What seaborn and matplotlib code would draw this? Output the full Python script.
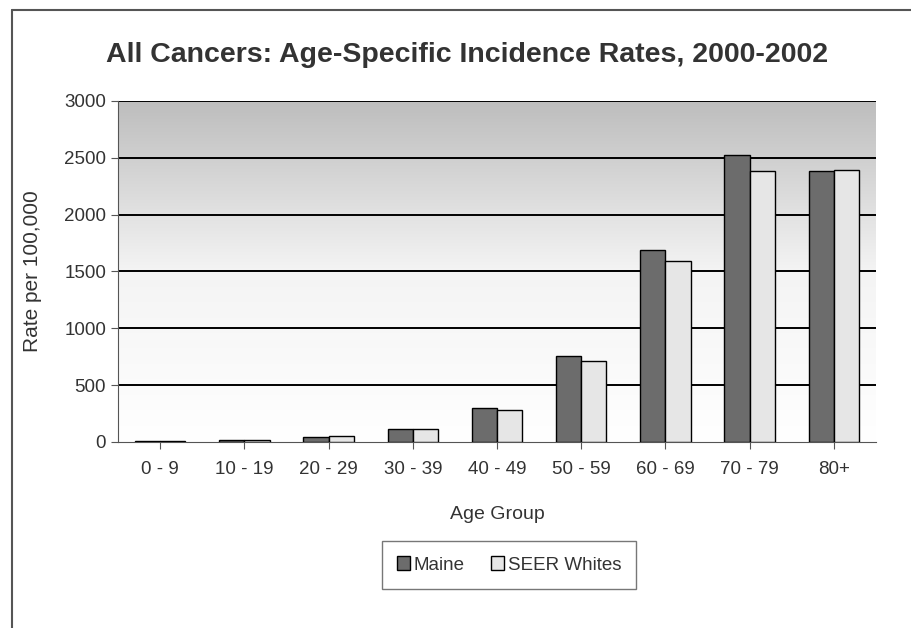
import numpy as np
import pandas as pd
import seaborn as sns
import matplotlib
matplotlib.use("Agg")
import matplotlib.pyplot as plt
from matplotlib.lines import Line2D
from matplotlib.colors import LinearSegmentedColormap

# ---------------------------------------------------------------
# Data
# ---------------------------------------------------------------
age_groups = ["0 - 9", "10 - 19", "20 - 29", "30 - 39", "40 - 49",
              "50 - 59", "60 - 69", "70 - 79", "80+"]
maine = [12, 15, 40, 114, 300, 760, 1690, 2525, 2385]
seer_whites = [13, 15, 55, 110, 282, 713, 1593, 2385, 2395]
series_names = ["Maine", "SEER Whites"]
y_ticks = [0, 500, 1000, 1500, 2000, 2500, 3000]

df = pd.DataFrame({
    "Age Group": age_groups * 2,
    "Rate": maine + seer_whites,
    "Series": [series_names[0]] * len(age_groups) + [series_names[1]] * len(age_groups),
})

sns.set_style("white")
plt.rcParams["font.family"] = ["Liberation Sans", "DejaVu Sans"]

fig = plt.figure(figsize=(9.11, 6.28), dpi=100)
ax = fig.add_axes([118 / 911, 1 - 442 / 628, (876 - 118) / 911, (442 - 101) / 628])

# gradient background: light grey at top, white at bottom
bg_cmap = LinearSegmentedColormap.from_list("bg", ["#ffffff", "#f4f4f4", "#bdbdbd"])
grad = np.linspace(0, 1, 256).reshape(-1, 1)
ax.imshow(grad, cmap=bg_cmap, vmin=0, vmax=1, aspect="auto",
          extent=[-0.5, len(age_groups) - 0.5, 0, 3000], origin="lower", zorder=0)

sns.barplot(data=df, x="Age Group", y="Rate", hue="Series",
            palette=["#6c6c6c", "#e6e6e6"], width=0.6, edgecolor="black",
            linewidth=1.0, ax=ax, zorder=3, legend=True)

ax.set_xlim(-0.5, len(age_groups) - 0.5)
ax.set_ylim(0, 3000)
ax.set_yticks(y_ticks)
for yv in y_ticks[1:]:
    ax.axhline(yv, color="black", lw=1.4, zorder=1)

for s in ["top", "right"]:
    ax.spines[s].set_visible(False)
ax.spines["left"].set_color("#555555")
ax.spines["bottom"].set_color("#555555")
ax.tick_params(axis="both", length=5, color="#555555", direction="out",
               labelsize=13.5, labelcolor="#333333", bottom=True, left=True)
ax.tick_params(axis="x", pad=9)
ax.set_xlabel("Age Group", fontsize=14, color="#333333", labelpad=20)
ax.set_ylabel("Rate per 100,000", fontsize=15, color="#333333", labelpad=16)

fig.text(467 / 911, 1 - 55 / 628, "All Cancers: Age-Specific Incidence Rates, 2000-2002",
         ha="center", va="center", fontsize=20.5, fontweight="bold", color="#333333")

leg = ax.legend(loc="center", bbox_to_anchor=(509 / 911, 1 - 565 / 628),
                bbox_transform=fig.transFigure, ncol=2, frameon=True,
                fancybox=False, fontsize=13.5, handlelength=0.7, handleheight=0.7,
                handletextpad=0.2, columnspacing=1.4, borderpad=0.8)
leg.get_frame().set_edgecolor("#555555")
leg.get_frame().set_linewidth(1.0)
for t in leg.get_texts():
    t.set_color("#333333")

# outer border lines (top and left)
fig.add_artist(Line2D([12 / 911, 1.0], [1 - 10 / 628, 1 - 10 / 628],
                      transform=fig.transFigure, color="#555555", lw=1.5))
fig.add_artist(Line2D([12 / 911, 12 / 911], [0.0, 1 - 10 / 628],
                      transform=fig.transFigure, color="#555555", lw=1.5))

fig.savefig("out.png", dpi=100)
